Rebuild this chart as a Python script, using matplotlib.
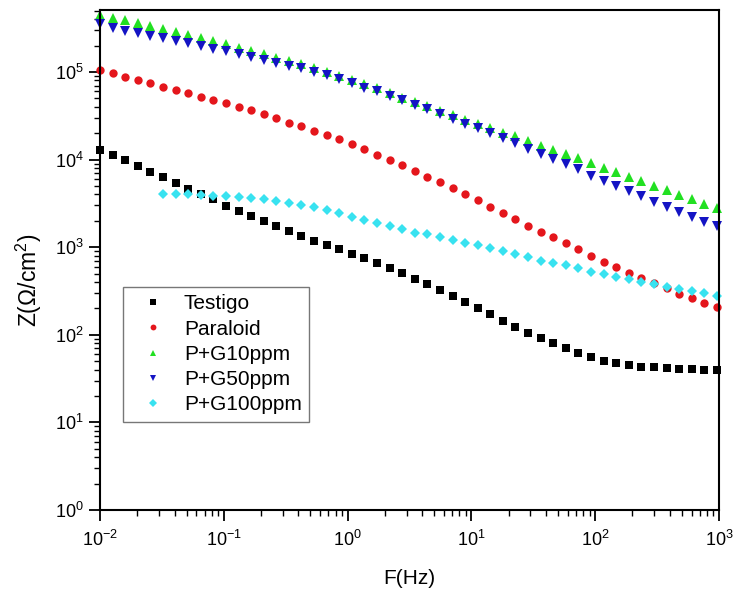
import matplotlib
matplotlib.use("Agg")
import matplotlib.pyplot as plt
from matplotlib.ticker import LogLocator, NullFormatter

plt.rcParams['font.family'] = ['Liberation Sans', 'DejaVu Sans']
plt.rcParams['mathtext.fontset'] = 'custom'
plt.rcParams['mathtext.rm'] = 'Liberation Sans'
plt.rcParams['mathtext.it'] = 'Liberation Sans'
plt.rcParams['axes.unicode_minus'] = False

freq = [0.01, 0.01264, 0.01597, 0.02019, 0.02551, 0.03225, 0.04076, 0.05151, 0.06511, 0.08229,
        0.1040, 0.1315, 0.1662, 0.2100, 0.2654, 0.3354, 0.4239, 0.5358, 0.6772, 0.8559,
        1.081, 1.367, 1.727, 2.183, 2.760, 3.487, 4.408, 5.571, 7.041, 8.899,
        11.25, 14.21, 17.97, 22.71, 28.70, 36.27, 45.84, 57.94, 73.23, 92.54,
        117.0, 147.8, 186.8, 236.1, 298.4, 377.2, 476.7, 602.5, 761.5, 962.3]

testigo = [1.288e4, 1.129e4, 9.77e3, 8.45e3, 7.26e3, 6.25e3, 5.43e3, 4.62e3, 4.03e3, 3.52e3,
           2.98e3, 2.59e3, 2.27e3, 1.98e3, 1.73e3, 1.53e3, 1.35e3, 1.19e3, 1.06e3, 946,
           836, 747, 655, 574, 504, 433, 377, 322, 277, 235,
           201, 171, 144, 123, 104, 91.2, 80.0, 70.2, 62.5, 55.3,
           50.6, 47.3, 45.2, 43.3, 42.6, 41.5, 40.7, 40.4, 39.6, 39.4]

paraloid = [1.054e5, 9.74e4, 8.84e4, 8.11e4, 7.43e4, 6.79e4, 6.20e4, 5.71e4, 5.14e4, 4.75e4,
            4.37e4, 4.02e4, 3.66e4, 3.30e4, 2.96e4, 2.65e4, 2.40e4, 2.14e4, 1.91e4, 1.70e4,
            1.50e4, 1.31e4, 1.13e4, 9.89e3, 8.61e3, 7.47e3, 6.38e3, 5.51e3, 4.70e3, 4.02e3,
            3.43e3, 2.90e3, 2.44e3, 2.10e3, 1.76e3, 1.50e3, 1.30e3, 1.125e3, 953, 794,
            683, 590, 512, 442, 387, 340, 294, 261, 232, 209]

pg10 = [4.42e5, 4.16e5, 3.89e5, 3.63e5, 3.35e5, 3.10e5, 2.86e5, 2.64e5, 2.43e5, 2.26e5,
        2.08e5, 1.90e5, 1.75e5, 1.60e5, 1.46e5, 1.34e5, 1.22e5, 1.11e5, 1.01e5, 9.0e4,
        8.11e4, 7.20e4, 6.48e4, 5.76e4, 5.11e4, 4.55e4, 4.04e4, 3.59e4, 3.21e4, 2.85e4,
        2.55e4, 2.28e4, 2.03e4, 1.84e4, 1.63e4, 1.44e4, 1.30e4, 1.16e4, 1.035e4, 9.14e3,
        8.09e3, 7.16e3, 6.38e3, 5.70e3, 5.00e3, 4.47e3, 3.94e3, 3.51e3, 3.11e3, 2.77e3]

pg50 = [3.49e5, 3.15e5, 2.96e5, 2.77e5, 2.60e5, 2.44e5, 2.26e5, 2.13e5, 1.97e5, 1.84e5,
        1.72e5, 1.60e5, 1.48e5, 1.38e5, 1.27e5, 1.16e5, 1.11e5, 1.01e5, 9.17e4, 8.32e4,
        7.48e4, 6.65e4, 5.99e4, 5.36e4, 4.73e4, 4.20e4, 3.75e4, 3.32e4, 2.91e4, 2.57e4,
        2.28e4, 1.99e4, 1.75e4, 1.53e4, 1.32e4, 1.16e4, 1.016e4, 8.91e3, 7.81e3, 6.55e3,
        5.74e3, 5.00e3, 4.38e3, 3.84e3, 3.31e3, 2.90e3, 2.54e3, 2.23e3, 1.95e3, 1.75e3]

freq100 = freq[5:]
pg100 = [4.10e3, 4.10e3, 4.05e3, 3.97e3, 3.89e3,
         3.84e3, 3.77e3, 3.67e3, 3.55e3, 3.37e3, 3.22e3, 3.03e3, 2.88e3, 2.64e3, 2.46e3,
         2.24e3, 2.07e3, 1.91e3, 1.75e3, 1.60e3, 1.47e3, 1.40e3, 1.31e3, 1.21e3, 1.125e3,
         1.06e3, 971, 912, 836, 767, 702, 665, 627, 574, 525,
         494, 460, 430, 404, 377, 354, 333, 316, 298, 279]

labels = ["Testigo", "Paraloid", "P+G10ppm", "P+G50ppm", "P+G100ppm"]

fig = plt.figure(figsize=(7.35, 5.92), dpi=100)
ax = fig.add_axes([100/735, 1 - 510/592, 619/735, 500/592])

ax.plot(freq, testigo, 's', color='black', ms=5.2, mew=0, label=labels[0], clip_on=False)
ax.plot(freq, paraloid, 'o', color='#e4161c', ms=6.0, mew=0, label=labels[1], clip_on=False)
ax.plot(freq, pg10, '^', color='#22e022', ms=7.0, mew=0, label=labels[2], clip_on=False)
ax.plot(freq, pg50, 'v', color='#1414c4', ms=7.0, mew=0, label=labels[3], clip_on=False)
ax.plot(freq100, pg100, 'D', color='#38e2f0', ms=5.2, mew=0, label=labels[4], clip_on=False)

ax.set_xscale('log')
ax.set_yscale('log')
ax.set_xlim(1e-2, 1e3)
ax.set_ylim(1e0, 5.1e5)

ax.xaxis.set_major_locator(LogLocator(base=10, numticks=20))
ax.yaxis.set_major_locator(LogLocator(base=10, numticks=20))
ax.xaxis.set_minor_locator(LogLocator(base=10, subs=range(2, 10), numticks=20))
ax.yaxis.set_minor_locator(LogLocator(base=10, subs=range(2, 10), numticks=20))
ax.xaxis.set_minor_formatter(NullFormatter())
ax.yaxis.set_minor_formatter(NullFormatter())

ax.tick_params(which='major', direction='out', length=8, width=1.3, labelsize=13)
ax.tick_params(axis='x', which='major', pad=6)
ax.tick_params(axis='y', which='major', pad=4)
ax.tick_params(which='minor', direction='out', length=4, width=1.0)
ax.tick_params(top=False, right=False, which='both')
for s in ax.spines.values():
    s.set_linewidth(1.5)

ax.set_xlabel('F(Hz)', fontsize=15, labelpad=14)
ax.set_ylabel('Z(Ω/cm$^2$)', fontsize=16.5)
ax.yaxis.set_label_coords(-0.091, 0.46)

leg = ax.legend(loc='upper left', bbox_to_anchor=(0.037, 0.446), fontsize=15,
                frameon=True, fancybox=False, edgecolor='#777777', framealpha=1,
                markerscale=0.7, handlelength=2.2, handletextpad=0.38,
                labelspacing=0.3, borderpad=0.35, borderaxespad=0)
leg.get_frame().set_linewidth(1.0)

fig.savefig('out.png', dpi=100)
